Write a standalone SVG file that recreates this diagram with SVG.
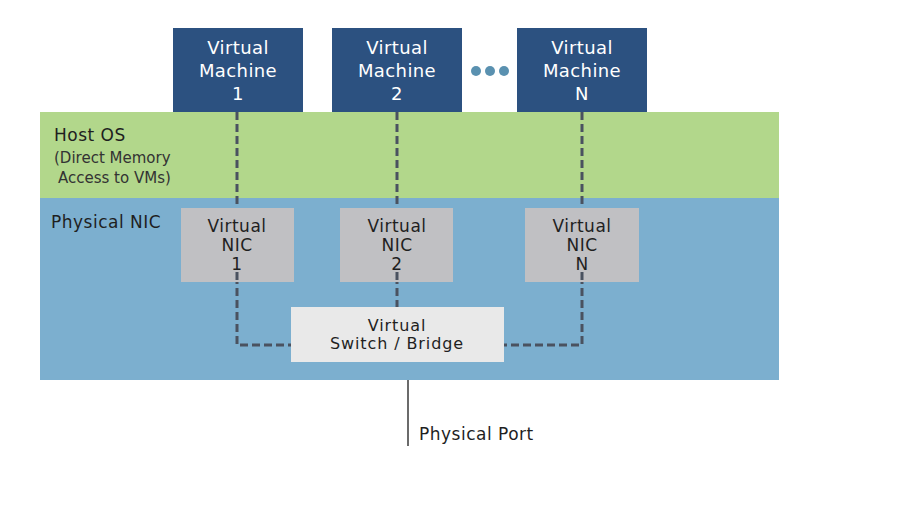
<svg xmlns="http://www.w3.org/2000/svg" width="915" height="512" viewBox="0 0 915 512">
<style>
text{font-family:"DejaVu Sans","Liberation Sans",sans-serif;}
.vm{fill:#2c5180;}
.vmt{fill:#ffffff;font-size:18px;text-anchor:middle;letter-spacing:0.4px;}
.nic{fill:#c0c0c3;}
.t{fill:#1f1f1f;font-size:17px;text-anchor:middle;letter-spacing:0.5px;}
.sw{fill:#1f1f1f;font-size:16px;text-anchor:middle;letter-spacing:0.9px;}
.lbl{fill:#1f1f1f;font-size:17px;letter-spacing:0.5px;}
.sub{fill:#333;font-size:15px;}
.dash{fill:none;stroke:#4a5260;stroke-width:3;stroke-dasharray:8 4;}
</style>
<rect width="915" height="512" fill="#ffffff"/>
<g id="host-os">
<rect x="40" y="112" width="739" height="86" fill="#b2d78b"/>
<text class="lbl" x="54" y="141">Host OS</text>
<text class="sub" x="54" y="163">(Direct Memory</text>
<text class="sub" x="58" y="183">Access to VMs)</text>
</g>
<g id="physical-nic">
<rect x="40" y="198" width="739" height="182" fill="#7cafcf"/>
<text class="lbl" x="51" y="228">Physical NIC</text>
</g>
<g id="connectors">
<line class="dash" x1="237" y1="112" x2="237" y2="208"/>
<line class="dash" x1="397" y1="112" x2="397" y2="208"/>
<line class="dash" x1="582" y1="112" x2="582" y2="208"/>
<polyline class="dash" points="237,276 237,345 291,345"/>
<line class="dash" x1="397" y1="276" x2="397" y2="307"/>
<polyline class="dash" points="582,276 582,345 504,345"/>
<line x1="408" y1="380" x2="408" y2="446" stroke="#6b6b6b" stroke-width="2"/>
</g>
<g id="vm1">
<rect class="vm" x="173" y="28" width="130" height="84"/>
<text class="vmt" x="238" y="54">Virtual</text>
<text class="vmt" x="238" y="77">Machine</text>
<text class="vmt" x="238" y="100">1</text>
</g>
<g id="vm2">
<rect class="vm" x="332" y="28" width="130" height="84"/>
<text class="vmt" x="397" y="54">Virtual</text>
<text class="vmt" x="397" y="77">Machine</text>
<text class="vmt" x="397" y="100">2</text>
</g>
<g id="ellipsis">
<circle cx="476" cy="71" r="5" fill="#5a91b0"/>
<circle cx="490" cy="71" r="5" fill="#5a91b0"/>
<circle cx="504" cy="71" r="5" fill="#5a91b0"/>
</g>
<g id="vmN">
<rect class="vm" x="517" y="28" width="130" height="84"/>
<text class="vmt" x="582" y="54">Virtual</text>
<text class="vmt" x="582" y="77">Machine</text>
<text class="vmt" x="582" y="100">N</text>
</g>
<g id="vnic1">
<rect class="nic" x="181" y="208" width="113" height="74"/>
<line class="dash" x1="237" y1="272" x2="237" y2="282"/>
<text class="t" x="237" y="232">Virtual</text>
<text class="t" x="237" y="251">NIC</text>
<text class="t" x="237" y="270">1</text>
</g>
<g id="vnic2">
<rect class="nic" x="340" y="208" width="113" height="74"/>
<line class="dash" x1="397" y1="272" x2="397" y2="282"/>
<text class="t" x="397" y="232">Virtual</text>
<text class="t" x="397" y="251">NIC</text>
<text class="t" x="397" y="270">2</text>
</g>
<g id="vnicN">
<rect class="nic" x="525" y="208" width="114" height="74"/>
<line class="dash" x1="582" y1="272" x2="582" y2="282"/>
<text class="t" x="582" y="232">Virtual</text>
<text class="t" x="582" y="251">NIC</text>
<text class="t" x="582" y="270">N</text>
</g>
<g id="switch">
<rect x="291" y="307" width="213" height="55" fill="#e9e9e9"/>
<text class="sw" x="397" y="331">Virtual</text>
<text class="sw" x="397" y="349">Switch / Bridge</text>
</g>
<g id="physical-port">
<text class="lbl" x="419" y="440">Physical Port</text>
</g>
</svg>
